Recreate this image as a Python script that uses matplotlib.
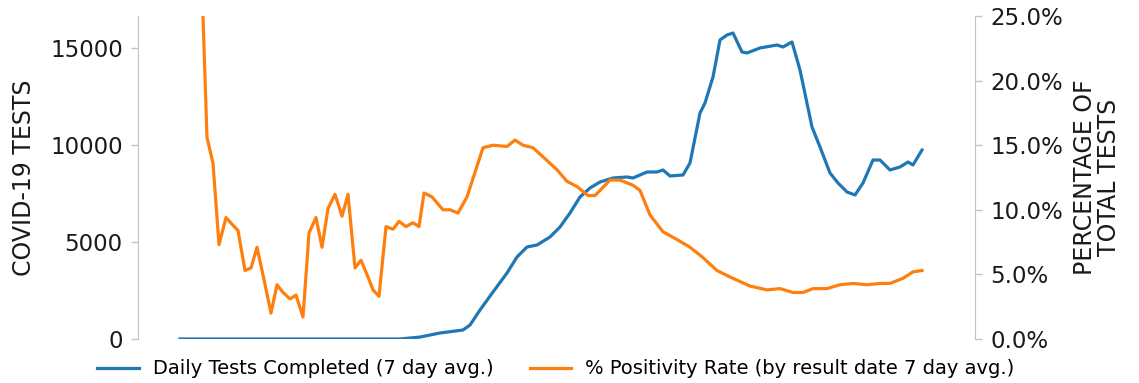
import matplotlib
matplotlib.use("Agg")
import matplotlib.pyplot as plt
from matplotlib.ticker import FuncFormatter

# day index (about 4 px per day)
test_days = [0, 55, 60, 65, 70.75, 72.5, 75, 78.25, 81.75, 84.25, 86.75, 89.25,
             92.5, 95, 97.5, 100, 102.5, 105, 108.25, 111.75, 113.25, 116.75,
             119.25, 120.75, 122.5, 125.75, 127.5, 130, 131.25, 133.25, 135,
             136.75, 138.25, 140.5, 141.75, 145, 149.25, 150.75, 153, 155, 158,
             160, 162.5, 164.5, 166.75, 168.75, 170.75, 173.25, 175, 177.5, 180,
             182, 183.25, 185.5]
daily_tests = [0, 0, 100, 310, 464, 720, 1495, 2423, 3402, 4227, 4743, 4846,
               5258, 5774, 6495, 7320, 7784, 8093, 8300, 8351, 8300, 8609,
               8609, 8712, 8403, 8454, 9073, 11650, 12166, 13506, 15414,
               15671, 15774, 14795, 14743, 15001, 15156, 15053, 15310, 13867, 10929,
               9898, 8557, 8042, 7578, 7423, 8042, 9227, 9227, 8712, 8867,
               9124, 8970, 9743]

pos_days = [5.75, 6.75, 8.25, 9.75, 11.5, 13.25, 14.5, 16.25, 17.75, 19.25,
            21, 22.75, 24.25, 25.75, 27.5, 29, 30.75, 32.25, 34, 35.5,
            37, 38.75, 40.5, 42, 43.75, 45.25, 47, 48.25, 49.75, 51.5,
            53.25, 54.75, 56.5, 58.25, 59.75, 61, 63, 65.75, 67.5, 69.5,
            71.75, 75.75, 78.25, 81.75, 83.75, 85.75, 88.25, 90.75, 94.25, 96.75,
            99.25, 102, 103.75, 107.5, 110, 113.25, 115, 117.5, 120.75, 124.25,
            127.5, 130.75, 134.25, 137.5, 142.5, 146.75, 150, 153.25, 155.75, 158.25,
            161.75, 165, 168.25, 171.75, 175, 177.5, 180.75, 183.25, 185.5]
positivity = [24.9, 15.6, 13.6, 7.3, 9.4, 8.8, 8.4, 5.3, 5.5, 7.1,
              4.6, 2.0, 4.2, 3.6, 3.1, 3.4, 1.7, 8.2, 9.4, 7.1,
              10.1, 11.2, 9.5, 11.2, 5.5, 6.1, 4.8, 3.8, 3.3, 8.7,
              8.5, 9.1, 8.7, 9.0, 8.7, 11.3, 11.0, 10.0, 10.0, 9.75,
              11.0, 14.8, 15.0, 14.9, 15.4, 15.0, 14.8, 14.1, 13.1, 12.2,
              11.8, 11.1, 11.1, 12.3, 12.3, 11.9, 11.5, 9.6, 8.3, 7.7,
              7.1, 6.3, 5.3, 4.8, 4.1, 3.8, 3.9, 3.6, 3.6, 3.9,
              3.9, 4.2, 4.3, 4.2, 4.3, 4.3, 4.7, 5.2, 5.3]

W, H = 1139, 383
fig = plt.figure(figsize=(W / 100, H / 100), dpi=100)
ax = fig.add_axes([138 / W, 1 - 339 / H, (975 - 138) / W, (339 - 16) / H])
ax2 = ax.twinx()

blue, = ax.plot(test_days, daily_tests, color="#1f77b4", lw=2.3,
                label="Daily Tests Completed (7 day avg.)")
orange, = ax2.plot(pos_days, positivity, color="#ff7f0e", lw=2.3,
                   label="% Positivity Rate (by result date 7 day avg.)")

ax.set_xlim(-10.5, 198.75)
ax.set_ylim(0, 16650)
ax2.set_ylim(0, 25)
ax.set_yticks([0, 5000, 10000, 15000])
ax2.set_yticks([0, 5, 10, 15, 20, 25])
ax2.yaxis.set_major_formatter(FuncFormatter(lambda v, p: f"{v:.1f}%"))
ax.set_xticks([])

for a in (ax, ax2):
    for s in ("top", "bottom"):
        a.spines[s].set_visible(False)
    a.tick_params(axis="y", labelsize=16.5, colors="#c4c4c4", labelcolor="#1a1a1a",
                  length=5, width=1, pad=6)
ax.spines["right"].set_visible(False)
ax2.spines["left"].set_visible(False)
ax.spines["left"].set_color("#c4c4c4")
ax2.spines["right"].set_color("#c4c4c4")

ax.set_ylabel("COVID-19 TESTS", fontsize=17, color="#1a1a1a", labelpad=10)
ax2.set_ylabel("PERCENTAGE OF\nTOTAL TESTS", fontsize=17, color="#1a1a1a",
               labelpad=7, linespacing=1.0)

fig.legend(handles=[blue, orange], loc="center", bbox_to_anchor=(556 / W, 1 - 369 / H),
           ncol=2, frameon=False, fontsize=14, handlelength=2.15,
           handletextpad=0.72, columnspacing=1.85)

fig.savefig("out.png", dpi=100)
